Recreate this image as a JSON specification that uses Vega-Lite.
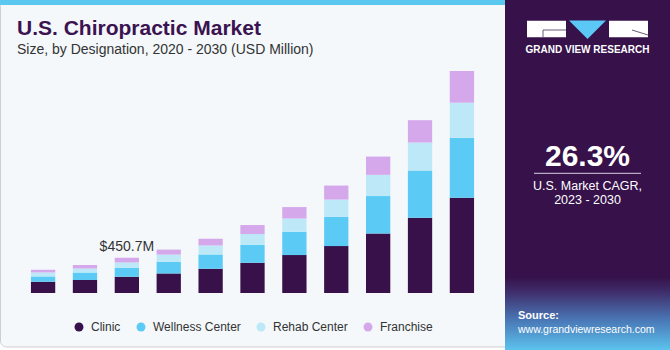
{
  "$schema": "https://vega.github.io/schema/vega-lite/v6.json",
  "width": 485,
  "height": 228,
  "autosize": {"type": "none"},
  "padding": {"left": 10, "top": 65, "right": 175, "bottom": 57},
  "background": "#FFFFFF",
  "data": {
    "values": [
      {"year": "2020", "segment": "Clinic", "value": 144},
      {"year": "2020", "segment": "Wellness Center", "value": 68},
      {"year": "2020", "segment": "Rehab Center", "value": 51},
      {"year": "2020", "segment": "Franchise", "value": 34},
      {"year": "2021", "segment": "Clinic", "value": 166},
      {"year": "2021", "segment": "Wellness Center", "value": 97},
      {"year": "2021", "segment": "Rehab Center", "value": 50},
      {"year": "2021", "segment": "Franchise", "value": 45},
      {"year": "2022", "segment": "Clinic", "value": 208},
      {"year": "2022", "segment": "Wellness Center", "value": 115},
      {"year": "2022", "segment": "Rehab Center", "value": 68},
      {"year": "2022", "segment": "Franchise", "value": 59.7},
      {"year": "2023", "segment": "Clinic", "value": 250},
      {"year": "2023", "segment": "Wellness Center", "value": 149},
      {"year": "2023", "segment": "Rehab Center", "value": 92},
      {"year": "2023", "segment": "Franchise", "value": 64},
      {"year": "2024", "segment": "Clinic", "value": 310},
      {"year": "2024", "segment": "Wellness Center", "value": 183},
      {"year": "2024", "segment": "Rehab Center", "value": 115},
      {"year": "2024", "segment": "Franchise", "value": 86},
      {"year": "2025", "segment": "Clinic", "value": 387},
      {"year": "2025", "segment": "Wellness Center", "value": 230},
      {"year": "2025", "segment": "Rehab Center", "value": 137},
      {"year": "2025", "segment": "Franchise", "value": 115},
      {"year": "2026", "segment": "Clinic", "value": 485},
      {"year": "2026", "segment": "Wellness Center", "value": 298},
      {"year": "2026", "segment": "Rehab Center", "value": 170},
      {"year": "2026", "segment": "Franchise", "value": 146},
      {"year": "2027", "segment": "Clinic", "value": 600},
      {"year": "2027", "segment": "Wellness Center", "value": 374},
      {"year": "2027", "segment": "Rehab Center", "value": 221},
      {"year": "2027", "segment": "Franchise", "value": 179},
      {"year": "2028", "segment": "Clinic", "value": 761},
      {"year": "2028", "segment": "Wellness Center", "value": 478},
      {"year": "2028", "segment": "Rehab Center", "value": 272},
      {"year": "2028", "segment": "Franchise", "value": 234},
      {"year": "2029", "segment": "Clinic", "value": 962},
      {"year": "2029", "segment": "Wellness Center", "value": 604},
      {"year": "2029", "segment": "Rehab Center", "value": 358},
      {"year": "2029", "segment": "Franchise", "value": 286},
      {"year": "2030", "segment": "Clinic", "value": 1217},
      {"year": "2030", "segment": "Wellness Center", "value": 770},
      {"year": "2030", "segment": "Rehab Center", "value": 447},
      {"year": "2030", "segment": "Franchise", "value": 405}
    ]
  },
  "layer": [
    {
      "data": {"values": [{}]},
      "mark": {"type": "rect", "fill": "#F4F8FB", "stroke": "#CFCFCF", "strokeWidth": 1, "cornerRadius": 6},
      "encoding": {"x": {"value": -9.5}, "x2": {"value": 505}, "y": {"value": -64.5}, "y2": {"value": 282}}
    },
    {
      "data": {"values": [{}]},
      "mark": {"type": "rect", "fill": "#5BC8F0"},
      "encoding": {"x": {"value": -10}, "x2": {"value": 495}, "y": {"value": -65}, "y2": {"value": -60}}
    },
    {
      "data": {"values": [{}]},
      "mark": {"type": "rect", "fill": "#36114A"},
      "encoding": {"x": {"value": 495}, "x2": {"value": 660}, "y": {"value": -65}, "y2": {"value": 285}}
    },
    {
      "data": {"values": [{}]},
      "mark": {
        "type": "rect",
        "fill": {
          "gradient": "linear", "x1": 0, "y1": 0, "x2": 0, "y2": 1,
          "stops": [
            {"offset": 0, "color": "#36114A"},
            {"offset": 0.22, "color": "#40306E"},
            {"offset": 0.6, "color": "#4A79B8"},
            {"offset": 1, "color": "#5CC3EE"}
          ]
        }
      },
      "encoding": {"x": {"value": 495}, "x2": {"value": 660}, "y": {"value": 212}, "y2": {"value": 285}}
    },
    {
      "data": {"values": [{}]},
      "mark": {"type": "text", "text": "U.S. Chiropractic Market", "align": "left", "baseline": "alphabetic", "fontSize": 21, "fontWeight": "bold", "font": "Liberation Sans", "color": "#3B1350"},
      "encoding": {"x": {"value": 7}, "y": {"value": -30}}
    },
    {
      "data": {"values": [{}]},
      "mark": {"type": "text", "text": "Size, by Designation, 2020 - 2030 (USD Million)", "align": "left", "baseline": "alphabetic", "fontSize": 14, "font": "Liberation Sans", "color": "#333333"},
      "encoding": {"x": {"value": 7}, "y": {"value": -11}}
    },
    {
      "transform": [
        {"calculate": "indexof(['Clinic', 'Wellness Center', 'Rehab Center', 'Franchise'], datum.segment)", "as": "stackOrder"}
      ],
      "mark": {"type": "bar"},
      "encoding": {
        "x": {
          "field": "year", "type": "ordinal",
          "scale": {"paddingInner": 0.42, "paddingOuter": 0.5},
          "axis": {
            "title": null, "domain": false, "ticks": false, "tickSize": 0,
            "labelPadding": 3, "labelFontSize": 13, "labelColor": "#333333",
            "labelFont": "Liberation Sans", "labelAngle": 0
          }
        },
        "y": {
          "field": "value", "type": "quantitative", "stack": "zero",
          "scale": {"domain": [0, 2916], "nice": false, "zero": true},
          "axis": null
        },
        "color": {
          "field": "segment", "type": "nominal",
          "scale": {
            "domain": ["Clinic", "Wellness Center", "Rehab Center", "Franchise"],
            "range": ["#38114A", "#5BCBF5", "#BCE8F8", "#D4A8EB"]
          },
          "legend": {
            "title": null, "orient": "none", "direction": "horizontal",
            "legendX": 63, "legendY": 256,
            "symbolType": "circle", "symbolSize": 80, "symbolStrokeWidth": 0,
            "labelFontSize": 12, "labelFont": "Liberation Sans", "labelColor": "#333333",
            "labelOffset": 6, "columnPadding": 14
          }
        },
        "order": {"field": "stackOrder", "type": "quantitative", "sort": "ascending"}
      }
    },
    {
      "transform": [
        {"filter": "datum.year == '2022'"},
        {"aggregate": [{"op": "sum", "field": "value", "as": "total"}], "groupby": ["year"]},
        {"calculate": "'$' + format(datum.total, '.1f') + 'M'", "as": "label"}
      ],
      "mark": {"type": "text", "baseline": "alphabetic", "dy": -7, "fontSize": 14, "font": "Liberation Sans", "color": "#333333"},
      "encoding": {
        "x": {"field": "year", "type": "ordinal"},
        "y": {"field": "total", "type": "quantitative"},
        "text": {"field": "label"}
      }
    },
    {
      "data": {"values": [{}]},
      "mark": {"type": "rect", "fill": "#FFFFFF"},
      "encoding": {"x": {"value": 517}, "x2": {"value": 556}, "y": {"value": -44.3}, "y2": {"value": -27.7}}
    },
    {
      "data": {"values": [{}]},
      "mark": {"type": "rect", "fill": "#FFFFFF"},
      "encoding": {"x": {"value": 599}, "x2": {"value": 638}, "y": {"value": -44.3}, "y2": {"value": -27.7}}
    },
    {
      "data": {"values": [{}]},
      "mark": {"type": "rule", "stroke": "#6A5A78", "strokeWidth": 1},
      "encoding": {"x": {"value": 533}, "x2": {"value": 556}, "y": {"value": -35}, "y2": {"value": -35}}
    },
    {
      "data": {"values": [{}]},
      "mark": {"type": "rule", "stroke": "#6A5A78", "strokeWidth": 1},
      "encoding": {"x": {"value": 533}, "x2": {"value": 533}, "y": {"value": -35}, "y2": {"value": -27.7}}
    },
    {
      "data": {"values": [{}]},
      "mark": {"type": "rule", "stroke": "#6A5A78", "strokeWidth": 1},
      "encoding": {"x": {"value": 622}, "x2": {"value": 638}, "y": {"value": -35}, "y2": {"value": -30}}
    },
    {
      "data": {"values": [{}]},
      "mark": {"type": "point", "shape": "M-1,-0.5L1,-0.5L0,0.5Z", "filled": true, "fill": "#5BC8F5", "opacity": 1, "size": 1369, "strokeWidth": 0},
      "encoding": {"x": {"value": 577.5}, "y": {"value": -35.2}}
    },
    {
      "data": {"values": [{}]},
      "mark": {"type": "text", "text": "GRAND VIEW RESEARCH", "align": "center", "baseline": "alphabetic", "fontSize": 10, "fontWeight": "bold", "font": "Liberation Sans", "color": "#FFFFFF", "letterSpacing": 0.6},
      "encoding": {"x": {"value": 577.5}, "y": {"value": -12}}
    },
    {
      "data": {"values": [{}]},
      "mark": {"type": "text", "text": "26.3%", "align": "center", "baseline": "alphabetic", "fontSize": 30, "fontWeight": "bold", "font": "Liberation Sans", "color": "#FFFFFF"},
      "encoding": {"x": {"value": 577.5}, "y": {"value": 100.7}}
    },
    {
      "data": {"values": [{}]},
      "mark": {"type": "rule", "stroke": "#D8D0E0", "strokeWidth": 1},
      "encoding": {"x": {"value": 524}, "x2": {"value": 631}, "y": {"value": 108.3}, "y2": {"value": 108.3}}
    },
    {
      "data": {"values": [{}]},
      "mark": {"type": "text", "text": "U.S. Market CAGR,", "align": "center", "baseline": "alphabetic", "fontSize": 12.5, "font": "Liberation Sans", "color": "#FFFFFF"},
      "encoding": {"x": {"value": 577.5}, "y": {"value": 125}}
    },
    {
      "data": {"values": [{}]},
      "mark": {"type": "text", "text": "2023 - 2030", "align": "center", "baseline": "alphabetic", "fontSize": 12.5, "font": "Liberation Sans", "color": "#FFFFFF"},
      "encoding": {"x": {"value": 577.5}, "y": {"value": 139}}
    },
    {
      "data": {"values": [{}]},
      "mark": {"type": "text", "text": "Source:", "align": "left", "baseline": "alphabetic", "fontSize": 11, "fontWeight": "bold", "font": "Liberation Sans", "color": "#FFFFFF"},
      "encoding": {"x": {"value": 508}, "y": {"value": 254.3}}
    },
    {
      "data": {"values": [{}]},
      "mark": {"type": "text", "text": "www.grandviewresearch.com", "align": "left", "baseline": "alphabetic", "fontSize": 10.5, "font": "Liberation Sans", "color": "#FFFFFF"},
      "encoding": {"x": {"value": 508}, "y": {"value": 268.3}}
    }
  ],
  "config": {
    "view": {"stroke": null},
    "axis": {"grid": false}
  }
}
